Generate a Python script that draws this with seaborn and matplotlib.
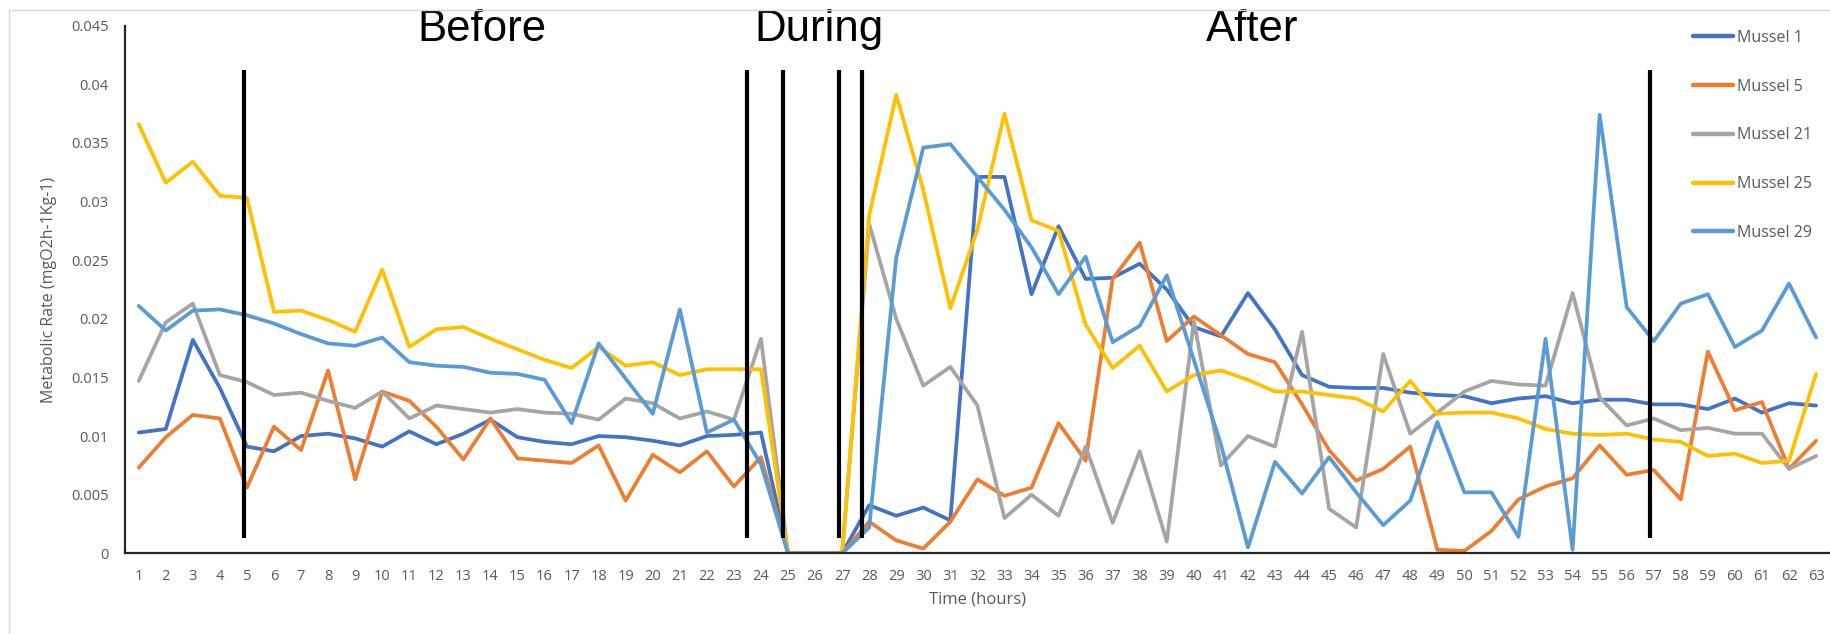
import numpy as np
import pandas as pd
import matplotlib
matplotlib.use("Agg")
import matplotlib.pyplot as plt
from matplotlib.lines import Line2D
import seaborn as sns

# ---- data -------------------------------------------------------------
hours = list(range(1, 64))

mussel_1 = [0.0103, 0.0106, 0.0182, 0.0141, 0.0091, 0.0087, 0.0100, 0.0102, 0.0098, 0.0091,
            0.0104, 0.0093, 0.0102, 0.0114, 0.0099, 0.0095, 0.0093, 0.0100, 0.0099, 0.0096,
            0.0092, 0.0100, 0.0101, 0.0103, 0.0, 0.0, 0.0, 0.0041, 0.0032, 0.0039,
            0.0028, 0.0321, 0.0321, 0.0221, 0.0279, 0.0234, 0.0235, 0.0247, 0.0225, 0.0193,
            0.0185, 0.0222, 0.0191, 0.0152, 0.0142, 0.0141, 0.0141, 0.0137, 0.0135, 0.0134,
            0.0128, 0.0132, 0.0134, 0.0128, 0.0131, 0.0131, 0.0127, 0.0127, 0.0123, 0.0132,
            0.0120, 0.0128, 0.0126]

mussel_5 = [0.0073, 0.0099, 0.0118, 0.0115, 0.0056, 0.0108, 0.0088, 0.0156, 0.0063, 0.0138,
            0.0130, 0.0108, 0.0080, 0.0115, 0.0081, 0.0079, 0.0077, 0.0092, 0.0045, 0.0084,
            0.0069, 0.0087, 0.0057, 0.0082, 0.0, 0.0, 0.0, 0.0027, 0.0011, 0.0004,
            0.0027, 0.0063, 0.0049, 0.0056, 0.0111, 0.0079, 0.0234, 0.0265, 0.0181, 0.0202,
            0.0186, 0.0170, 0.0163, 0.0127, 0.0088, 0.0062, 0.0072, 0.0091, 0.0003, 0.0002,
            0.0019, 0.0046, 0.0057, 0.0064, 0.0092, 0.0067, 0.0071, 0.0046, 0.0172, 0.0122,
            0.0129, 0.0072, 0.0096]

mussel_21 = [0.0147, 0.0197, 0.0213, 0.0152, 0.0146, 0.0135, 0.0137, 0.0130, 0.0124, 0.0138,
             0.0115, 0.0126, 0.0123, 0.0120, 0.0123, 0.0120, 0.0119, 0.0114, 0.0132, 0.0128,
             0.0115, 0.0121, 0.0114, 0.0183, 0.0, 0.0, 0.0, 0.0281, 0.0200, 0.0143,
             0.0159, 0.0126, 0.0030, 0.0050, 0.0032, 0.0091, 0.0026, 0.0087, 0.0010, 0.0198,
             0.0075, 0.0100, 0.0091, 0.0189, 0.0038, 0.0022, 0.0170, 0.0102, 0.0120, 0.0138,
             0.0147, 0.0144, 0.0143, 0.0222, 0.0133, 0.0109, 0.0115, 0.0105, 0.0107, 0.0102,
             0.0102, 0.0072, 0.0083]

mussel_25 = [0.0366, 0.0316, 0.0334, 0.0305, 0.0303, 0.0206, 0.0207, 0.0199, 0.0189, 0.0242,
             0.0176, 0.0191, 0.0193, 0.0183, 0.0174, 0.0165, 0.0158, 0.0176, 0.0160, 0.0163,
             0.0152, 0.0157, 0.0157, 0.0157, 0.0, 0.0, 0.0, 0.0288, 0.0391, 0.0310,
             0.0209, 0.0276, 0.0375, 0.0284, 0.0275, 0.0195, 0.0158, 0.0177, 0.0138, 0.0152,
             0.0156, 0.0148, 0.0138, 0.0138, 0.0135, 0.0132, 0.0121, 0.0147, 0.0119, 0.0120,
             0.0120, 0.0115, 0.0106, 0.0102, 0.0101, 0.0102, 0.0097, 0.0095, 0.0083, 0.0085,
             0.0077, 0.0079, 0.0153]

mussel_29 = [0.0211, 0.0190, 0.0207, 0.0208, 0.0203, 0.0196, 0.0187, 0.0179, 0.0177, 0.0184,
             0.0163, 0.0160, 0.0159, 0.0154, 0.0153, 0.0148, 0.0111, 0.0179, 0.0149, 0.0119,
             0.0208, 0.0103, 0.0114, 0.0076, 0.0, 0.0, 0.0, 0.0022, 0.0252, 0.0346,
             0.0349, 0.0321, 0.0293, 0.0261, 0.0221, 0.0253, 0.0180, 0.0194, 0.0237, 0.0165,
             0.0093, 0.0005, 0.0078, 0.0051, 0.0082, 0.0052, 0.0024, 0.0045, 0.0112, 0.0052,
             0.0052, 0.0014, 0.0183, 0.0003, 0.0374, 0.0210, 0.0181, 0.0213, 0.0221, 0.0176,
             0.0190, 0.0230, 0.0184]

series_names = ["Mussel 1", "Mussel 5", "Mussel 21", "Mussel 25", "Mussel 29"]
series_values = [mussel_1, mussel_5, mussel_21, mussel_25, mussel_29]
series_colors = ["#4472C4", "#ED7D31", "#A5A5A5", "#FFC000", "#5B9BD5"]

y_ticks = [0.0, 0.005, 0.01, 0.015, 0.02, 0.025, 0.03, 0.035, 0.04, 0.045]
y_tick_labels = ["0", "0.005", "0.01", "0.015", "0.02", "0.025", "0.03", "0.035", "0.04", "0.045"]

# phase boundaries (hours) and phase captions
phase_marks = [4.9, 23.5, 24.8, 26.9, 27.75, 56.85]
phase_names = ["Before", "During", "After"]
phase_centers = [13.7, 26.15, 42.15]

# ---- build long-form table -------------------------------------------
df = pd.concat(
    [pd.DataFrame({"Time (hours)": hours, "rate": vals, "series": name})
     for name, vals in zip(series_names, series_values)],
    ignore_index=True,
)

# ---- style ------------------------------------------------------------
sns.set_theme(style="white")
plt.rcParams["font.family"] = ["Open Sans", "DejaVu Sans"]

W, H = 1831, 634
fig = plt.figure(figsize=(W / 100, H / 100), dpi=100)
ax = fig.add_axes([125.2 / W, 1 - 553.3 / H, (1829.6 - 125.2) / W, (553.3 - 25.7) / H])

sns.lineplot(
    data=df, x="Time (hours)", y="rate", hue="series",
    hue_order=series_names, palette=dict(zip(series_names, series_colors)),
    linewidth=2.7, ax=ax, sort=False, estimator=None,
)

ax.set_xlim(0.5, 63.5)
ax.set_ylim(0, 0.045)

# phase boundaries
for xm in phase_marks:
    ax.plot([xm, xm], [0.0013, 0.0412], color="black", linewidth=3.0,
            solid_capstyle="butt", zorder=5)

# phase captions
for name, xc in zip(phase_names, phase_centers):
    ax.text(xc, 0.0437, name, ha="center", va="baseline", fontsize=31.5,
            family=["Liberation Sans", "DejaVu Sans"], color="black", clip_on=False)

# axes, ticks and labels
tick_color = "#595959"
ax.set_xticks(hours)
ax.set_xticklabels([str(h) for h in hours])
ax.set_yticks(y_ticks)
ax.set_yticklabels(y_tick_labels)
ax.tick_params(axis="both", which="major", direction="out", length=4, width=1.4,
               color="#262626", labelsize=10.5, labelcolor=tick_color)
ax.tick_params(axis="y", pad=8)
ax.tick_params(axis="x", pad=7)

for side in ["top", "right"]:
    ax.spines[side].set_visible(False)
for side in ["left", "bottom"]:
    ax.spines[side].set_color("#262626")
    ax.spines[side].set_linewidth(1.6)

ax.set_xlabel("Time (hours)", fontsize=12, color=tick_color, labelpad=6)
ax.set_ylabel("Metabolic Rate (mgO2h-1Kg-1)", fontsize=11.5, color=tick_color, labelpad=10)

# legend
handles = [Line2D([0], [0], color=c, linewidth=3.2) for c in series_colors]
ax.legend(handles, series_names, loc="upper left",
          bbox_to_anchor=(1693 / W, 1 - 30 / H), bbox_transform=fig.transFigure,
          frameon=False, fontsize=11.5, handlelength=2.5, handletextpad=0.25,
          labelspacing=2.05, borderpad=0, borderaxespad=0, labelcolor=tick_color)

# chart-area border
fig.add_artist(Line2D([9.5 / W, 1], [1 - 10 / H, 1 - 10 / H], transform=fig.transFigure,
                      color="#d9d9d9", linewidth=1.0))
fig.add_artist(Line2D([9.5 / W, 9.5 / W], [0, 1 - 10 / H], transform=fig.transFigure,
                      color="#d9d9d9", linewidth=1.0))

fig.savefig("out.png", dpi=100, facecolor="white")
